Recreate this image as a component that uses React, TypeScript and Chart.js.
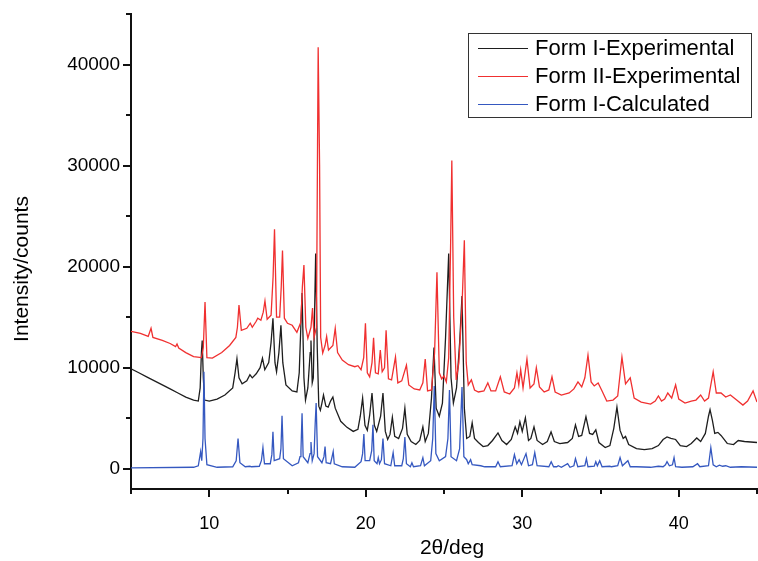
import React, { useEffect, useRef } from 'react';
import { Chart, registerables } from 'chart.js';

Chart.register(...registerables);

const xMajorTicks = [10, 20, 30, 40];
const xMinorTicks = [5, 15, 25, 35, 45];
const yMajorTicks = [0, 10000, 20000, 30000, 40000];
const yMinorTicks = [5000, 15000, 25000, 35000, 45000];
const seriesNames = ['Form I-Experimental', 'Form II-Experimental', 'Form I-Calculated'];
const seriesColors = ['#1e1e1e', '#f03030', '#3558c0'];
const xTitle = '2θ/deg';
const yTitle = 'Intensity/counts';

const formIExp: [number, number][] = [
  [5.0, 9900], [5.5, 9500], [6.0, 9100], [6.5, 8700], [7.0, 8300], [7.5, 7900], [8.0, 7500], [8.5, 7100],
  [9.0, 6800], [9.3, 6700], [9.42, 8000], [9.5, 11500], [9.55, 12700], [9.62, 9000], [9.7, 6800], [10.0, 6700],
  [10.5, 6900], [11.0, 7300], [11.5, 8000], [11.65, 9500], [11.77, 10900], [11.9, 9000], [12.1, 8400], [12.4, 8700],
  [12.6, 9300], [12.75, 9000], [13.0, 9400], [13.25, 10000], [13.4, 10950], [13.55, 9800], [13.8, 10500], [13.95, 12500],
  [14.07, 14900], [14.2, 10500], [14.3, 9600], [14.45, 11500], [14.58, 14200], [14.7, 10500], [14.9, 8300], [15.3, 7700],
  [15.6, 7600], [15.75, 9500], [15.85, 14000], [15.93, 17400], [16.05, 9000], [16.15, 6800], [16.3, 8000], [16.45, 11500],
  [16.5, 12700], [16.58, 8500], [16.65, 9000], [16.75, 17000], [16.8, 21300], [16.9, 12000], [17.0, 6200], [17.1, 5800],
  [17.2, 6500], [17.3, 7300], [17.45, 6200], [17.6, 6100], [17.75, 6700], [17.9, 7100], [18.05, 6000], [18.4, 4700],
  [18.8, 4100], [19.2, 3700], [19.5, 3900], [19.65, 5200], [19.8, 7000], [19.95, 4300], [20.1, 3800], [20.25, 5300],
  [20.4, 7500], [20.55, 4300], [20.7, 3700], [20.95, 5200], [21.1, 7500], [21.25, 3700], [21.4, 2900], [21.55, 3400],
  [21.7, 5100], [21.85, 3200], [22.1, 3000], [22.35, 4000], [22.5, 6000], [22.65, 3400], [22.9, 2700], [23.2, 2400],
  [23.45, 2800], [23.65, 4150], [23.8, 2700], [24.0, 3500], [24.2, 7000], [24.36, 12000], [24.5, 6000], [24.7, 5200],
  [24.9, 6500], [25.1, 13000], [25.3, 21300], [25.45, 9000], [25.6, 6500], [25.8, 8000], [26.0, 12500], [26.15, 17100],
  [26.3, 6000], [26.45, 3000], [26.65, 3200], [26.8, 4550], [26.95, 3000], [27.2, 2600], [27.5, 2200], [27.8, 2300],
  [28.1, 2800], [28.45, 3550], [28.7, 2800], [29.0, 2400], [29.3, 2900], [29.55, 4150], [29.7, 3500], [29.85, 4650],
  [30.0, 3700], [30.2, 5050], [30.4, 2800], [30.55, 3000], [30.75, 4150], [30.95, 2800], [31.3, 2400], [31.6, 2700],
  [31.84, 3650], [32.05, 2700], [32.4, 2500], [32.9, 2600], [33.2, 3000], [33.4, 4350], [33.6, 3200], [33.8, 3300],
  [34.07, 5150], [34.3, 3500], [34.5, 3400], [34.7, 3850], [34.9, 2600], [35.3, 2100], [35.6, 2300], [35.85, 4000],
  [36.05, 6100], [36.25, 3800], [36.45, 3000], [36.6, 3200], [36.8, 2400], [37.3, 2000], [37.8, 1900], [38.3, 2000],
  [38.7, 2300], [39.0, 2900], [39.25, 3150], [39.5, 3000], [39.8, 2900], [40.1, 2300], [40.5, 2200], [40.8, 2500],
  [41.15, 3050], [41.4, 2700], [41.7, 3500], [41.9, 5200], [42.0, 5850], [42.15, 4800], [42.3, 3500], [42.5, 3600],
  [42.7, 3300], [43.1, 2500], [43.5, 2400], [43.8, 2800], [44.2, 2700], [45.0, 2600],
];

const formIIExp: [number, number][] = [
  [5.0, 13600], [5.6, 13400], [6.1, 13100], [6.28, 13900], [6.4, 13000], [7.0, 12700], [7.5, 12400], [7.85, 12100],
  [7.94, 12350], [8.05, 11950], [8.5, 11500], [9.0, 11100], [9.5, 11000], [9.62, 12000], [9.73, 16500], [9.85, 11000],
  [10.2, 10950], [10.8, 11500], [11.3, 12200], [11.7, 13000], [11.8, 14000], [11.9, 16200], [12.05, 13700], [12.4, 13900],
  [12.62, 14400], [12.75, 14000], [13.0, 14600], [13.1, 14900], [13.3, 14700], [13.45, 15500], [13.56, 16600], [13.7, 14800],
  [13.95, 15200], [14.08, 19000], [14.17, 23700], [14.3, 15000], [14.5, 15000], [14.6, 18000], [14.68, 21600], [14.8, 14900],
  [15.0, 14400], [15.3, 14200], [15.6, 13500], [15.85, 14500], [15.95, 18000], [16.05, 20150], [16.17, 14000], [16.3, 12900],
  [16.5, 14000], [16.6, 15900], [16.7, 13000], [16.85, 14000], [16.92, 32000], [16.96, 41700], [17.05, 30000], [17.12, 13000],
  [17.25, 11450], [17.4, 12200], [17.5, 13100], [17.62, 11750], [17.9, 12200], [18.05, 13900], [18.2, 11500], [18.5, 10750],
  [18.9, 10300], [19.3, 10100], [19.5, 10200], [19.7, 9800], [19.87, 11000], [19.98, 14400], [20.1, 9500], [20.25, 9100],
  [20.4, 10500], [20.5, 12950], [20.62, 9500], [20.8, 9400], [20.93, 11750], [21.05, 9600], [21.2, 10000], [21.3, 13700],
  [21.45, 8900], [21.65, 8800], [21.9, 11050], [22.05, 8500], [22.3, 8700], [22.6, 10250], [22.75, 8300], [23.1, 7900],
  [23.45, 7800], [23.65, 8500], [23.8, 10850], [23.95, 7700], [24.2, 7800], [24.4, 11500], [24.55, 19450], [24.7, 9500],
  [24.85, 8900], [25.0, 9200], [25.15, 8600], [25.3, 11000], [25.42, 22000], [25.5, 30500], [25.62, 15000], [25.78, 8800],
  [25.95, 10500], [26.15, 16000], [26.3, 22600], [26.42, 10500], [26.55, 8300], [26.75, 8800], [26.95, 7800], [27.2, 7600],
  [27.55, 7700], [27.8, 8500], [28.0, 7700], [28.3, 7700], [28.6, 9100], [28.85, 7600], [29.2, 7400], [29.5, 8000],
  [29.66, 9500], [29.78, 8300], [29.9, 9800], [30.05, 8000], [30.3, 10850], [30.5, 8000], [30.75, 8400], [30.9, 10000],
  [31.1, 8100], [31.4, 7600], [31.7, 7800], [31.9, 9100], [32.1, 7600], [32.5, 7300], [33.0, 7500], [33.3, 7900],
  [33.56, 8600], [33.8, 8100], [34.0, 9000], [34.2, 11250], [34.4, 8600], [34.6, 8200], [34.85, 8500], [35.1, 7700],
  [35.4, 6700], [35.8, 6800], [36.1, 7200], [36.37, 11050], [36.6, 8400], [36.9, 9000], [37.15, 7000], [37.6, 6600],
  [38.2, 6400], [38.5, 6700], [38.7, 7200], [38.9, 6700], [39.1, 6900], [39.3, 7500], [39.55, 7000], [39.8, 8300],
  [40.0, 6900], [40.4, 6500], [40.8, 6700], [41.1, 6800], [41.4, 7300], [41.65, 6700], [41.9, 7000], [42.05, 8300],
  [42.2, 9600], [42.4, 7500], [42.7, 7500], [43.0, 7100], [43.3, 7300], [43.7, 6800], [44.1, 6300], [44.4, 6700],
  [44.75, 7700], [45.0, 6600],
];

const formICalc: [number, number][] = [
  [5.0, 100], [9.0, 150], [9.3, 300], [9.45, 1700], [9.52, 800], [9.6, 3000], [9.66, 9600], [9.73, 3000],
  [9.85, 400], [10.5, 150], [11.5, 200], [11.72, 800], [11.84, 3000], [11.96, 600], [12.3, 200], [12.6, 250],
  [12.7, 200], [13.2, 250], [13.33, 800], [13.43, 2100], [13.53, 500], [13.9, 500], [14.0, 1400], [14.07, 3650],
  [14.15, 800], [14.5, 1000], [14.58, 2000], [14.65, 5250], [14.74, 1000], [15.3, 300], [15.7, 600], [15.8, 1200],
  [15.86, 1800], [15.93, 5500], [16.0, 1200], [16.3, 600], [16.44, 1500], [16.5, 2650], [16.58, 800], [16.7, 1500],
  [16.77, 4500], [16.83, 6500], [16.92, 1200], [17.2, 600], [17.33, 1200], [17.4, 2200], [17.47, 600], [17.75, 500],
  [17.85, 1200], [17.92, 1700], [17.99, 500], [18.5, 200], [19.3, 150], [19.7, 700], [19.8, 1500], [19.88, 3450],
  [19.96, 800], [20.25, 800], [20.38, 1800], [20.46, 4350], [20.54, 800], [20.72, 500], [20.8, 1100], [20.88, 500],
  [21.0, 900], [21.1, 3000], [21.2, 500], [21.6, 300], [21.75, 1600], [21.85, 300], [22.3, 300], [22.4, 1000],
  [22.5, 3150], [22.6, 500], [22.85, 200], [22.95, 600], [23.05, 200], [23.5, 300], [23.65, 1100], [23.75, 300],
  [24.15, 800], [24.28, 3000], [24.38, 8200], [24.48, 1500], [24.7, 800], [25.1, 1200], [25.25, 3000], [25.35, 7800],
  [25.45, 1200], [25.8, 800], [26.0, 2000], [26.15, 8100], [26.27, 1200], [26.45, 900], [26.55, 500], [26.7, 900],
  [26.8, 400], [27.35, 300], [27.6, 200], [28.3, 200], [28.45, 700], [28.6, 200], [29.35, 300], [29.5, 1400],
  [29.65, 500], [29.8, 900], [29.95, 400], [30.24, 1500], [30.4, 300], [30.65, 400], [30.8, 1600], [30.95, 300],
  [31.7, 200], [31.85, 700], [32.0, 200], [32.2, 200], [32.3, 300], [32.5, 150], [32.9, 500], [33.05, 150],
  [33.3, 300], [33.4, 1000], [33.55, 200], [34.0, 300], [34.1, 1000], [34.2, 200], [34.6, 250], [34.7, 700],
  [34.8, 300], [34.95, 800], [35.1, 200], [35.6, 250], [35.7, 200], [36.1, 300], [36.25, 1100], [36.4, 300],
  [36.75, 800], [36.9, 200], [37.3, 200], [38.2, 150], [38.7, 250], [39.0, 200], [39.15, 400], [39.25, 700],
  [39.4, 300], [39.6, 400], [39.7, 1100], [39.8, 200], [40.2, 150], [40.9, 200], [41.2, 500], [41.35, 200],
  [41.9, 300], [42.05, 2100], [42.2, 400], [42.4, 200], [42.6, 350], [42.8, 250], [43.0, 300], [43.3, 150],
  [44.0, 200], [45.0, 150],
];

const FONT = "'Liberation Sans', Arial, sans-serif";

const decorPlugin = {
  id: 'decor',
  afterDraw(chart: any) {
    const ctx = chart.ctx as CanvasRenderingContext2D;
    const xs = chart.scales.x;
    const ys = chart.scales.y;
    const { left, bottom } = chart.chartArea;
    ctx.save();
    ctx.strokeStyle = '#111';
    ctx.lineWidth = 2;
    ctx.beginPath();
    xMajorTicks.forEach((v) => {
      const p = Math.round(xs.getPixelForValue(v));
      ctx.moveTo(p, bottom);
      ctx.lineTo(p, bottom + 8);
    });
    xMinorTicks.forEach((v) => {
      const p = Math.round(xs.getPixelForValue(v));
      ctx.moveTo(p, bottom);
      ctx.lineTo(p, bottom + 5);
    });
    yMajorTicks.forEach((v) => {
      const p = Math.round(ys.getPixelForValue(v));
      ctx.moveTo(left, p);
      ctx.lineTo(left - 8, p);
    });
    yMinorTicks.forEach((v) => {
      const p = Math.round(ys.getPixelForValue(v));
      ctx.moveTo(left, p);
      ctx.lineTo(left - 5, p);
    });
    ctx.stroke();

    ctx.fillStyle = '#000';
    ctx.font = `21px ${FONT}`;
    ctx.textAlign = 'center';
    ctx.textBaseline = 'middle';
    ctx.fillText(xTitle, 452, 548);
    ctx.save();
    ctx.translate(22, 269);
    ctx.rotate(-Math.PI / 2);
    ctx.fillText(yTitle, 0, 0);
    ctx.restore();

    ctx.strokeStyle = '#333';
    ctx.lineWidth = 1;
    ctx.strokeRect(468.5, 33.5, 283, 84);
    ctx.font = `22px ${FONT}`;
    ctx.textAlign = 'left';
    seriesNames.forEach((name, i) => {
      const y = 48 + 28 * i;
      ctx.strokeStyle = seriesColors[i];
      ctx.lineWidth = 1.2;
      ctx.beginPath();
      ctx.moveTo(478, y + 0.5);
      ctx.lineTo(528, y + 0.5);
      ctx.stroke();
      ctx.fillStyle = '#000';
      ctx.fillText(name, 535, y + 1);
    });
    ctx.restore();
  },
};

const zeroPad = (scale: any) => {
  scale.paddingLeft = 0;
  scale.paddingRight = 0;
  scale.paddingTop = 0;
  scale.paddingBottom = 0;
};

export default function App() {
  const canvasRef = useRef<HTMLCanvasElement | null>(null);

  useEffect(() => {
    if (!canvasRef.current) return;
    const all = [formIExp, formIIExp, formICalc];
    const chart = new Chart(canvasRef.current, {
      type: 'line',
      data: {
        datasets: all.map((s, i) => ({
          label: seriesNames[i],
          data: s.map(([x, y]) => ({ x, y })),
          borderColor: seriesColors[i],
          borderWidth: 1.3,
          pointRadius: 0,
          tension: 0,
          fill: false,
          order: 3 - i,
        })),
      },
      options: {
        animation: false,
        responsive: true,
        maintainAspectRatio: false,
        devicePixelRatio: 1,
        layout: { padding: { left: 0, top: 14, right: 1, bottom: 0 } },
        plugins: { legend: { display: false }, tooltip: { enabled: false } },
        scales: {
          x: {
            type: 'linear',
            min: 5,
            max: 45,
            afterBuildTicks: (scale: any) => {
              scale.ticks = [...xMajorTicks, ...xMinorTicks].sort((a, b) => a - b).map((v) => ({ value: v }));
            },
            afterFit: (scale: any) => {
              scale.height = 72;
              zeroPad(scale);
            },
            grid: { display: false, drawTicks: false },
            border: { display: true, color: '#111', width: 2 },
            ticks: {
              autoSkip: false,
              maxRotation: 0,
              padding: 24,
              color: '#000',
              font: { family: FONT, size: 18 },
              callback: (v: any) => (xMajorTicks.includes(Number(v)) ? String(v) : ''),
            },
          },
          y: {
            type: 'linear',
            min: -2000,
            max: 45000,
            afterBuildTicks: (scale: any) => {
              scale.ticks = [...yMajorTicks, ...yMinorTicks].sort((a, b) => a - b).map((v) => ({ value: v }));
            },
            afterFit: (scale: any) => {
              scale.width = 131;
              zeroPad(scale);
            },
            grid: { display: false, drawTicks: false },
            border: { display: true, color: '#111', width: 2 },
            ticks: {
              autoSkip: false,
              padding: 11,
              color: '#000',
              font: { family: FONT, size: 19 },
              callback: (v: any) => (yMajorTicks.includes(Number(v)) ? String(v) : ''),
            },
          },
        },
      },
      plugins: [decorPlugin],
    });
    return () => chart.destroy();
  }, []);

  return (
    <div style={{ position: 'fixed', left: 0, top: 0, width: 758, height: 561, background: '#fff' }}>
      <canvas ref={canvasRef} />
    </div>
  );
}
